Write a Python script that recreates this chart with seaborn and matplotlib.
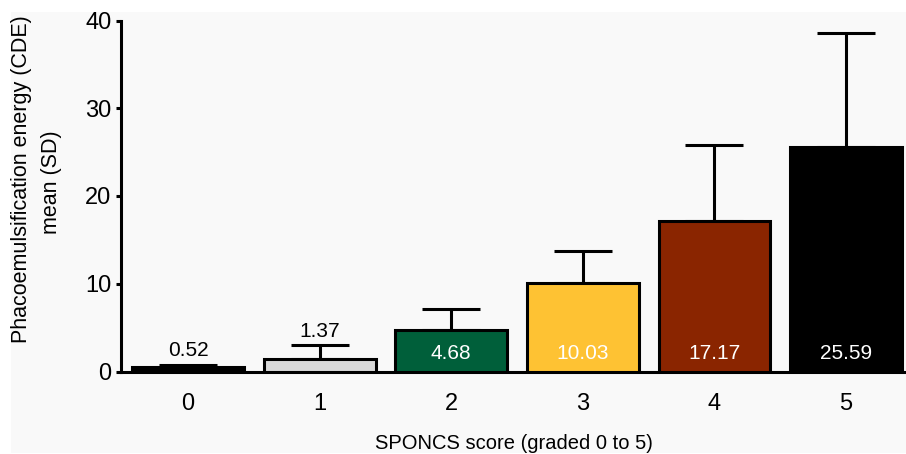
import matplotlib
matplotlib.use("Agg")
import matplotlib.pyplot as plt
from matplotlib.patches import Rectangle
import seaborn as sns
import pandas as pd

# SPONCS grade vs phaco energy
scores = ["0", "1", "2", "3", "4", "5"]
mean_cde = [0.52, 1.37, 4.68, 10.03, 17.17, 25.59]
sd_cde = [0.25, 1.65, 2.44, 3.69, 8.63, 13.04]
bar_colors = ["#000000", "#d9d9d9", "#005f3a", "#fec233", "#8a2500", "#000000"]
label_colors = ["black", "black", "white", "white", "white", "white"]
y_ticks = [0, 10, 20, 30, 40]

df = pd.DataFrame({"score": scores, "cde": mean_cde})

sns.set_theme(style="ticks")
plt.rcParams["font.family"] = ["Liberation Sans", "DejaVu Sans"]
plt.rcParams["text.color"] = "black"
plt.rcParams["axes.labelcolor"] = "black"

W, H = 906, 454
fig = plt.figure(figsize=(W / 100, H / 100), dpi=100, facecolor="white")
fig.patches.append(Rectangle((11 / W, 1 / H), 1 - 11 / W, (H - 13) / H,
                             transform=fig.transFigure, facecolor="#f9f9f9",
                             edgecolor="none", zorder=-10))

x0, x1 = 121, 906
ytop, ybot = 20.5, 371.5
ax = fig.add_axes([x0 / W, (H - ybot) / H, (x1 - x0) / W, (ybot - ytop) / H])
ax.set_facecolor("none")

sns.barplot(data=df, x="score", y="cde", hue="score", palette=bar_colors,
            order=scores, hue_order=scores, legend=False, errorbar=None,
            saturation=1, width=0.85, edgecolor="black", linewidth=2.2,
            ax=ax, zorder=3)

pos = list(range(len(scores)))
ax.errorbar(pos, mean_cde, yerr=[[0] * len(scores), sd_cde], fmt="none",
            ecolor="black", elinewidth=2.2, capsize=21, capthick=2.2, zorder=2)

for i, (m, s) in enumerate(zip(mean_cde, sd_cde)):
    if label_colors[i] == "black":
        ax.annotate(f"{m:.2f}", xy=(i, m + s), xytext=(0, 6), textcoords="offset points",
                    ha="center", va="baseline", fontsize=15, color="black")
    else:
        ax.annotate(f"{m:.2f}", xy=(i, 0), xytext=(0, 9.2), textcoords="offset points",
                    ha="center", va="baseline", fontsize=15, color=label_colors[i])

ax.set_xlim(-0.51, 5.456)
ax.set_ylim(0, 40)
ax.set_yticks(y_ticks)
ax.set_xlabel("SPONCS score (graded 0 to 5)", fontsize=14.5, labelpad=14, color="black")
ax.set_ylabel("")
for side in ["top", "right"]:
    ax.spines[side].set_visible(False)
for side in ["left", "bottom"]:
    ax.spines[side].set_linewidth(2.2)
    ax.spines[side].set_color("black")
ax.tick_params(axis="y", length=3.5, width=2.2, pad=3.5, labelsize=17,
               colors="black", labelcolor="black")
ax.tick_params(axis="x", length=0, pad=15.5, labelsize=17,
               colors="black", labelcolor="black")

fig.text(22 / W, 1 - 179 / H, "Phacoemulsification energy (CDE)", rotation=90,
         ha="center", va="center", fontsize=15.5, color="black")
fig.text(52 / W, 1 - 182 / H, "mean (SD)", rotation=90,
         ha="center", va="center", fontsize=15.5, color="black")

fig.savefig("out.png", dpi=100, facecolor="white")
